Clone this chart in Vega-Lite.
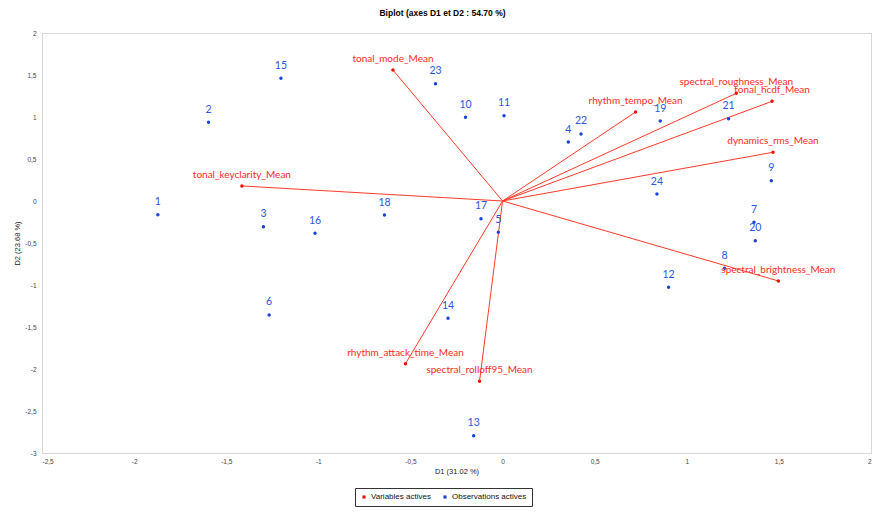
{
  "$schema": "https://vega.github.io/schema/vega-lite/v6.json",
  "width": 829,
  "height": 420,
  "autosize": {"type": "none"},
  "padding": {"left": 42, "top": 33, "right": 13, "bottom": 64},
  "background": "white",
  "title": {"text": "Biplot (axes D1 et D2 : 54.70 %)", "font": "Liberation Sans", "fontSize": 8.5, "fontWeight": "bold", "color": "#000", "offset": 13, "dx": -14},
  "config": {
    "view": {"stroke": "#b0b0b0", "strokeDash": [1, 1]},
    "axis": {"grid": false, "domain": false, "ticks": false, "labelFont": "Liberation Sans", "labelFontSize": 6.5, "labelColor": "#444", "titleFont": "Liberation Sans", "titleFontSize": 7.5, "titleFontWeight": "normal", "titleColor": "#222"}
  },
  "datasets": {
    "obs": [
      {"id": "1", "D1": -1.871, "D2": -0.163, "type": "Observations actives"},
      {"id": "2", "D1": -1.596, "D2": 0.937, "type": "Observations actives"},
      {"id": "3", "D1": -1.298, "D2": -0.306, "type": "Observations actives"},
      {"id": "4", "D1": 0.357, "D2": 0.702, "type": "Observations actives"},
      {"id": "5", "D1": -0.023, "D2": -0.373, "type": "Observations actives"},
      {"id": "6", "D1": -1.267, "D2": -1.357, "type": "Observations actives"},
      {"id": "7", "D1": 1.365, "D2": -0.254, "type": "Observations actives"},
      {"id": "8", "D1": 1.205, "D2": -0.801, "type": "Observations actives"},
      {"id": "9", "D1": 1.459, "D2": 0.242, "type": "Observations actives"},
      {"id": "10", "D1": -0.201, "D2": 0.996, "type": "Observations actives"},
      {"id": "11", "D1": 0.008, "D2": 1.015, "type": "Observations actives"},
      {"id": "12", "D1": 0.901, "D2": -1.027, "type": "Observations actives"},
      {"id": "13", "D1": -0.157, "D2": -2.794, "type": "Observations actives"},
      {"id": "14", "D1": -0.296, "D2": -1.396, "type": "Observations actives"},
      {"id": "15", "D1": -1.203, "D2": 1.461, "type": "Observations actives"},
      {"id": "16", "D1": -1.018, "D2": -0.385, "type": "Observations actives"},
      {"id": "17", "D1": -0.117, "D2": -0.211, "type": "Observations actives"},
      {"id": "18", "D1": -0.641, "D2": -0.167, "type": "Observations actives"},
      {"id": "19", "D1": 0.856, "D2": 0.952, "type": "Observations actives"},
      {"id": "20", "D1": 1.372, "D2": -0.473, "type": "Observations actives"},
      {"id": "21", "D1": 1.227, "D2": 0.98, "type": "Observations actives"},
      {"id": "22", "D1": 0.426, "D2": 0.798, "type": "Observations actives"},
      {"id": "23", "D1": -0.364, "D2": 1.396, "type": "Observations actives"},
      {"id": "24", "D1": 0.838, "D2": 0.083, "type": "Observations actives"}
    ],
    "vars": [
      {"id": "tonal_mode_Mean", "D1": -0.595, "D2": 1.56, "type": "Variables actives"},
      {"id": "tonal_keyclarity_Mean", "D1": -1.415, "D2": 0.179, "type": "Variables actives"},
      {"id": "rhythm_tempo_Mean", "D1": 0.722, "D2": 1.06, "type": "Variables actives"},
      {"id": "spectral_roughness_Mean", "D1": 1.269, "D2": 1.282, "type": "Variables actives"},
      {"id": "tonal_hcdf_Mean", "D1": 1.463, "D2": 1.187, "type": "Variables actives"},
      {"id": "dynamics_rms_Mean", "D1": 1.468, "D2": 0.58, "type": "Variables actives"},
      {"id": "spectral_brightness_Mean", "D1": 1.497, "D2": -0.952, "type": "Variables actives"},
      {"id": "rhythm_attack_time_Mean", "D1": -0.527, "D2": -1.937, "type": "Variables actives"},
      {"id": "spectral_rolloff95_Mean", "D1": -0.125, "D2": -2.146, "type": "Variables actives"}
    ]
  },
  "encoding": {
    "x": {"field": "D1", "type": "quantitative", "scale": {"domain": [-2.5, 2], "nice": false, "zero": false},
      "axis": {"values": [-2.5, -2, -1.5, -1, -0.5, 0, 0.5, 1, 1.5, 2], "labelExpr": "replace(toString(datum.value), '.', ',')", "title": "D1 (31.02 %)", "labelPadding": 5, "titlePadding": 3}},
    "y": {"field": "D2", "type": "quantitative", "scale": {"domain": [-3, 2], "nice": false, "zero": false},
      "axis": {"values": [-3, -2.5, -2, -1.5, -1, -0.5, 0, 0.5, 1, 1.5, 2], "labelExpr": "replace(toString(datum.value), '.', ',')", "title": "D2 (23.68 %)", "labelPadding": 6, "titlePadding": 3}}
  },
  "layer": [
    {"data": {"values": [{"v": 0}]}, "mark": {"type": "rule", "color": "#b0b0b0", "strokeDash": [1, 1], "strokeWidth": 1},
      "encoding": {"x": {"datum": 0, "type": "quantitative"}, "y": null}},
    {"data": {"values": [{"v": 0}]}, "mark": {"type": "rule", "color": "#b0b0b0", "strokeDash": [1, 1], "strokeWidth": 1},
      "encoding": {"y": {"datum": 0, "type": "quantitative"}, "x": null}},
    {"data": {"name": "vars"}, "mark": {"type": "rule", "color": "#ff3a2a", "strokeWidth": 1},
      "encoding": {"x2": {"datum": 0}, "y2": {"datum": 0}}},
    {"data": {"name": "vars"}, "mark": {"type": "point", "filled": true, "size": 12, "opacity": 1},
      "encoding": {"color": {"field": "type", "type": "nominal", "scale": {"domain": ["Variables actives", "Observations actives"], "range": ["#ee1100", "#1a44d6"]},
        "legend": {"orient": "none", "legendX": 313, "legendY": 455, "direction": "horizontal", "title": null, "labelFont": "Liberation Sans", "labelFontSize": 8, "labelColor": "#111", "symbolSize": 10, "symbolType": "square", "strokeColor": "#333", "padding": 5, "columnPadding": 10, "labelOffset": 3}}}},
    {"data": {"name": "obs"}, "mark": {"type": "point", "filled": true, "size": 12, "opacity": 1},
      "encoding": {"color": {"field": "type", "type": "nominal"}}},
    {"data": {"name": "vars"}, "mark": {"type": "text", "color": "#ff2a1a", "font": "Lato", "fontSize": 10, "dy": -11},
      "encoding": {"text": {"field": "id"}}},
    {"data": {"name": "obs"}, "mark": {"type": "text", "color": "#2a55e0", "font": "Lato", "fontSize": 10.5, "dy": -12.5},
      "encoding": {"text": {"field": "id"}}}
  ]
}
